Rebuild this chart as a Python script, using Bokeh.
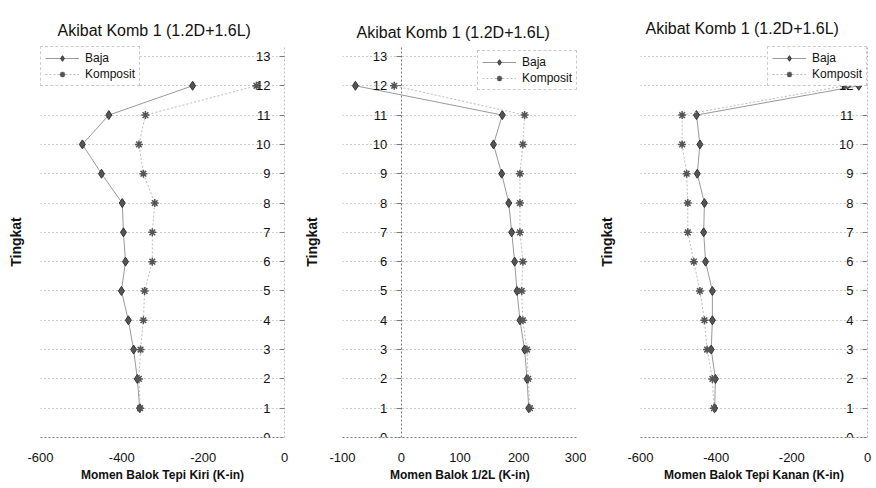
from bokeh.plotting import figure
from bokeh.models import LinearAxis, FixedTicker, Range1d
from bokeh.layouts import row
from bokeh.embed import file_html
from bokeh.resources import INLINE

# ---- data ----
tingkat = [1, 2, 3, 4, 5, 6, 7, 8, 9, 10, 11, 12]
tingkat_ticks = [0, 1, 2, 3, 4, 5, 6, 7, 8, 9, 10, 11, 12, 13]

kiri_baja = [-356, -362, -371, -384, -401, -391, -396, -399, -450, -497, -432, -226]
kiri_komposit = [-355, -358, -354, -347, -344, -325, -325, -319, -347, -358, -342, -69]

tengah_baja = [217, 214, 210, 202, 197, 193, 188, 183, 171, 157, 172, -78]
tengah_komposit = [219, 216, 214, 207, 205, 207, 202, 202, 202, 207, 210, -12]

kanan_baja = [-404, -402, -413, -410, -410, -428, -433, -431, -450, -443, -452, -23]
kanan_komposit = [-406, -410, -424, -431, -443, -459, -475, -475, -478, -490, -490, -60]

ticks_tepi = [-600, -400, -200, 0]
ticks_tengah = [-100, 0, 100, 200, 300]

title_text = "Akibat Komb 1 (1.2D+1.6L)"
FONT = "Liberation Sans"
HEIGHT = 486


def panel(xlabel, xr, xticks, baja, komposit, width, bl, br, legend_loc,
          ylabel_standoff, title_offset, title_standoff):
    p = figure(width=width, height=HEIGHT, output_backend="svg", toolbar_location=None,
               x_range=Range1d(*xr), y_range=Range1d(0, 13.34),
               min_border_left=bl, min_border_right=br,
               min_border_top=46, min_border_bottom=HEIGHT - 437,
               title=title_text)
    p.outline_line_color = None
    p.background_fill_color = "white"
    p.border_fill_color = "white"

    p.title.text_font = FONT
    p.title.text_font_size = "16px"
    p.title.text_font_style = "normal"
    p.title.text_color = "#111111"
    p.title.align = "left"
    p.title.offset = title_offset
    p.title.standoff = title_standoff

    p.xgrid.visible = False
    p.ygrid.ticker = FixedTicker(ticks=tingkat_ticks)
    p.ygrid.grid_line_color = "#9a9a9a"
    p.ygrid.grid_line_dash = "1 3"

    xa = p.xaxis[0]
    xa.ticker = FixedTicker(ticks=xticks)
    xa.major_label_overrides = {t: str(t) for t in xticks}
    xa.axis_line_color = "#777777"
    xa.axis_line_dash = "2 2"
    xa.major_tick_out = 0
    xa.major_tick_in = 0
    xa.minor_tick_line_color = None
    xa.major_label_standoff = 15
    xa.major_label_text_font = FONT
    xa.major_label_text_font_size = "13px"
    xa.major_label_text_color = "#111111"
    xa.axis_label = xlabel
    xa.axis_label_text_font = FONT
    xa.axis_label_text_font_style = "bold"
    xa.axis_label_text_font_size = "12px"
    xa.axis_label_text_color = "#111111"
    xa.axis_label_standoff = 3

    ya = p.yaxis[0]
    ya.ticker = FixedTicker(ticks=[])
    ya.axis_line_color = None
    ya.major_tick_out = 0
    ya.major_tick_in = 0
    ya.minor_tick_line_color = None
    ya.axis_label = "Tingkat"
    ya.axis_label_text_font = FONT
    ya.axis_label_text_font_style = "bold"
    ya.axis_label_text_font_size = "14px"
    ya.axis_label_text_color = "#111111"
    ya.axis_label_standoff = ylabel_standoff

    yc = LinearAxis(fixed_location=0, ticker=FixedTicker(ticks=tingkat_ticks))
    yc.axis_line_color = "#777777"
    yc.axis_line_dash = "2 2"
    yc.major_tick_out = 5
    yc.major_tick_in = 0
    yc.major_tick_line_color = "#777777"
    yc.minor_tick_line_color = None
    yc.major_label_standoff = 9
    yc.major_label_text_font = FONT
    yc.major_label_text_font_size = "13px"
    yc.major_label_text_color = "#111111"
    p.add_layout(yc, "left")

    p.line(baja, tingkat, line_color="#999999", line_width=1, legend_label="Baja")
    p.scatter(baja, tingkat, marker="diamond", size=9, fill_color="#555555",
              line_color="#333333", line_width=1, legend_label="Baja")
    p.line(komposit, tingkat, line_color="#bbbbbb", line_width=1, line_dash="2 2",
           legend_label="Komposit")
    p.scatter(komposit, tingkat, marker="asterisk", size=8, line_color="#555555",
              line_width=1.5, legend_label="Komposit")

    lg = p.legend[0]
    lg.location = legend_loc
    lg.background_fill_color = "white"
    lg.background_fill_alpha = 1.0
    lg.border_line_color = "#999999"
    lg.border_line_dash = "1 2"
    lg.label_text_font = FONT
    lg.label_text_font_size = "12px"
    lg.label_text_color = "#111111"
    lg.glyph_width = 34
    lg.glyph_height = 14
    lg.label_height = 14
    lg.label_standoff = 6
    lg.padding = 4
    lg.spacing = 2
    lg.margin = 0
    return p


p1 = panel("Momen Balok Tepi Kiri (K-in)", (-600, 0), ticks_tepi, kiri_baja, kiri_komposit,
           296, 40, 12, "top_left", 17, 17, 16)
p2 = panel("Momen Balok 1/2L (K-in)", (-100, 300), ticks_tengah, tengah_baja, tengah_komposit,
           290, 46, 9, (135, 347), 23, 14, 12)
p3 = panel("Momen Balok Tepi Kanan (K-in)", (-600, 0), ticks_tepi, kanan_baja, kanan_komposit,
           288, 54, 7, "top_right", 26, 5, 19)

layout = row(p1, p2, p3)
open("out.html", "w").write(file_html(layout, INLINE))
